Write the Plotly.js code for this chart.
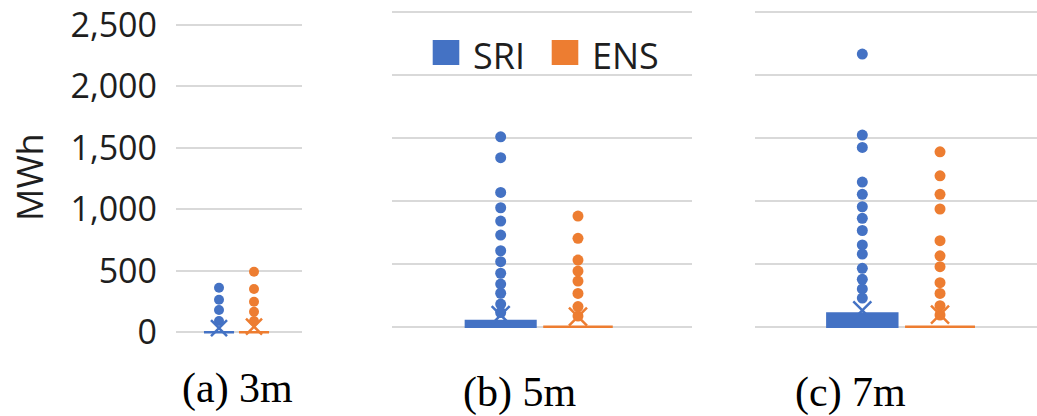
<!DOCTYPE html>
<html>
<head>
<meta charset="utf-8">
<script src="https://cdn.plot.ly/plotly-3.0.1.min.js"></script>
<style>html,body{margin:0;padding:0;background:#fff;}#chart{width:1037px;height:416px;}</style>
</head>
<body>
<div id="chart"></div>
<script>
// ---------- DATA ----------
const categories = ['SRI', 'ENS'];
const panelLabels = ['(a) 3m', '(b) 5m', '(c) 7m'];
const yTickValues = [0, 500, 1000, 1500, 2000, 2500];
const yAxisTitle = 'MWh';

// box statistics: [q1, median, q3]
const sri3Box = [0, 0, 0];
const ens3Box = [0, 0, 0];
const sri5Box = [0, 0, 45];
const ens5Box = [0, 0, 0];
const sri7Box = [0, 0, 105];
const ens7Box = [0, 0, 0];

// means
const sri3Mean = 33;
const ens3Mean = 46;
const sri5Mean = 93;
const ens5Mean = 80;
const sri7Mean = 129;
const ens7Mean = 97;

// outliers
const sri3Outliers = [363, 265, 181, 92];
const ens3Outliers = [493, 352, 249, 167, 92];
const sri5Outliers = [1510, 1344, 1068, 946, 840, 729, 604, 517, 425, 339, 266, 180, 113];
const ens5Outliers = [880, 703, 530, 442, 363, 265, 160, 85];
const sri7Outliers = [2168, 1524, 1426, 1150, 1053, 954, 862, 765, 650, 578, 464, 377, 300, 228];
const ens7Outliers = [1391, 1200, 1053, 936, 684, 564, 477, 350, 265, 167, 93];

// ---------- STYLE ----------
const BLUE = '#4472C4';
const ORANGE = '#ED7D31';
const GRID = '#d9d9d9';
const W = 1037, H = 416;

const panels = [
  {xa: 'x',  ya: 'y',  sri: [sri3Box, sri3Mean, sri3Outliers], ens: [ens3Box, ens3Mean, ens3Outliers], boxW: 0.86, dot: 10, xs: 16},
  {xa: 'x2', ya: 'y2', sri: [sri5Box, sri5Mean, sri5Outliers], ens: [ens5Box, ens5Mean, ens5Outliers], boxW: 0.9, dot: 11, xs: 18},
  {xa: 'x3', ya: 'y3', sri: [sri7Box, sri7Mean, sri7Outliers], ens: [ens7Box, ens7Mean, ens7Outliers], boxW: 0.9, dot: 11, xs: 18}
];

const traces = [];
panels.forEach(p => {
  [[categories[0], p.sri, BLUE], [categories[1], p.ens, ORANGE]].forEach(([cat, d, col]) => {
    const [box, mean, outl] = d;
    traces.push({
      type: 'box', x: [cat], q1: [box[0]], median: [box[1]], q3: [box[2]],
      lowerfence: [box[0]], upperfence: [box[2]],
      width: p.boxW, whiskerwidth: 0, boxpoints: false,
      fillcolor: col, line: {color: col, width: 2.5},
      xaxis: p.xa, yaxis: p.ya, hoverinfo: 'skip', showlegend: false
    });
    traces.push({
      type: 'scatter', mode: 'markers', x: outl.map(() => cat), y: outl,
      marker: {color: col, size: p.dot, line: {width: 0}},
      xaxis: p.xa, yaxis: p.ya, hoverinfo: 'skip', showlegend: false, cliponaxis: false
    });
    traces.push({
      type: 'scatter', mode: 'markers', x: [cat], y: [mean],
      marker: {symbol: 'x-thin-open', color: col, size: p.xs, line: {color: col, width: 2.5}},
      xaxis: p.xa, yaxis: p.ya, hoverinfo: 'skip', showlegend: false, cliponaxis: false
    });
  });
});

function xAxis(domain, range) {
  return {domain: domain, type: 'category', categoryarray: categories, range: range,
    showticklabels: false, showgrid: false, zeroline: false, showline: false, ticks: '', fixedrange: true};
}
function yAxis(domain, range, labels) {
  return {domain: domain, range: range, tickvals: yTickValues, tickformat: ',d',
    showticklabels: labels, showgrid: true, gridcolor: GRID, gridwidth: 2,
    zeroline: true, zerolinecolor: GRID, zerolinewidth: 2, showline: false, ticks: '',
    ticklabelstandoff: 18,
    tickfont: {family: 'Open Sans', size: 34, color: '#1e1e1e'}, fixedrange: true};
}

const px = v => v / W;
const py = v => 1 - v / H;

const layout = {
  width: W, height: H, autosize: false,
  margin: {l: 0, r: 0, t: 0, b: 0},
  paper_bgcolor: '#fff', plot_bgcolor: 'rgba(0,0,0,0)',
  showlegend: false,
  xaxis:  xAxis([px(176), px(302)], [-1.229, 2.371]),
  xaxis2: xAxis([px(392), px(692)], [-1.406, 2.475]),
  xaxis3: xAxis([px(755), 1], [-1.381, 2.248]),
  yaxis:  yAxis([py(350.73), py(12.69)], [-150, 2600], true),
  yaxis2: yAxis([py(345.57), py(1.0)], [-150, 2590], false),
  yaxis3: yAxis([py(345.57), py(1.0)], [-150, 2590], false),
  shapes: [
    {type: 'rect', xref: 'paper', yref: 'paper', x0: px(432.7), x1: px(459.3), y0: py(65), y1: py(40), fillcolor: BLUE, line: {width: 0}},
    {type: 'rect', xref: 'paper', yref: 'paper', x0: px(551.7), x1: px(578.3), y0: py(65), y1: py(40), fillcolor: ORANGE, line: {width: 0}}
  ],
  annotations: [
    {xref: 'paper', yref: 'paper', x: px(30), y: py(177), text: yAxisTitle, textangle: -90, showarrow: false,
     xanchor: 'center', yanchor: 'middle', font: {family: 'Open Sans', size: 36, color: '#1e1e1e'}},
    {xref: 'paper', yref: 'paper', x: px(471), y: py(56), text: categories[0], showarrow: false,
     xanchor: 'left', yanchor: 'middle', font: {family: 'Open Sans', size: 36, color: '#1e1e1e'}},
    {xref: 'paper', yref: 'paper', x: px(590), y: py(56), text: categories[1], showarrow: false,
     xanchor: 'left', yanchor: 'middle', font: {family: 'Open Sans', size: 36, color: '#1e1e1e'}},
    {xref: 'paper', yref: 'paper', x: px(237.5), y: py(388), text: panelLabels[0], showarrow: false,
     xanchor: 'center', yanchor: 'middle', font: {family: 'Liberation Serif', size: 42, color: '#000'}},
    {xref: 'paper', yref: 'paper', x: px(519), y: py(392), text: panelLabels[1], showarrow: false,
     xanchor: 'center', yanchor: 'middle', font: {family: 'Liberation Serif', size: 42, color: '#000'}},
    {xref: 'paper', yref: 'paper', x: px(850), y: py(392), text: panelLabels[2], showarrow: false,
     xanchor: 'center', yanchor: 'middle', font: {family: 'Liberation Serif', size: 42, color: '#000'}}
  ]
};

Plotly.newPlot('chart', traces, layout, {displayModeBar: false, staticPlot: true});
</script>
</body>
</html>
